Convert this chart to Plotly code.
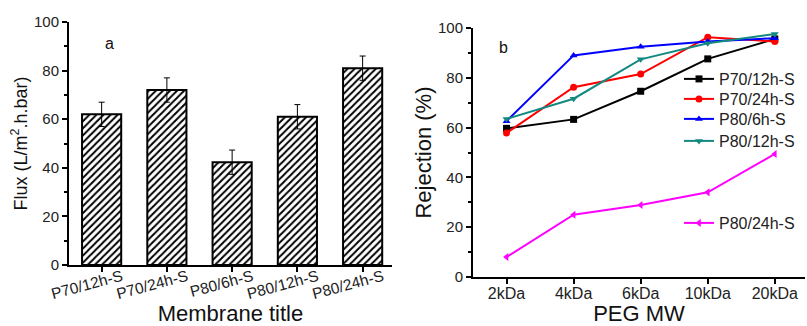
import plotly.graph_objects as go

# ---- data ----
membranes = ["P70/12h-S", "P70/24h-S", "P80/6h-S", "P80/12h-S", "P80/24h-S"]
flux = [62, 72, 42.3, 61, 81]
flux_err = [5, 5, 5, 5, 5]

peg_mw = ["2kDa", "4kDa", "6kDa", "10kDa", "20kDa"]
rej_p70_12 = [59.7, 63.3, 74.6, 87.6, 95.6]
rej_p70_24 = [57.8, 76.2, 81.5, 96.3, 94.6]
rej_p80_6 = [62.6, 89.0, 92.5, 94.6, 95.9]
rej_p80_12 = [63.5, 71.6, 87.4, 93.9, 97.6]
rej_p80_24 = [8.0, 25.0, 28.9, 34.0, 49.4]

FONT = "Liberation Sans, Arial, sans-serif"
W, H = 807, 326

fig = go.Figure()

fig.add_trace(go.Bar(
    x=membranes, y=flux, width=0.6,
    marker=dict(color="white", line=dict(color="black", width=2),
                pattern=dict(shape="/", fgcolor="black", bgcolor="white", size=5, solidity=0.4)),
    error_y=dict(type="data", array=flux_err, color="black", thickness=1, width=3),
    xaxis="x", yaxis="y", showlegend=False,
))

# (name, values, colour, marker, legend id, legend top in px)
series = [
    ("P70/12h-S", rej_p70_12, "black", "square", "legend", 62),
    ("P70/24h-S", rej_p70_24, "#ff0000", "circle", "legend2", 82),
    ("P80/6h-S", rej_p80_6, "#0000ff", "triangle-up", "legend3", 102),
    ("P80/12h-S", rej_p80_12, "#128a80", "triangle-down", "legend4", 124),
    ("P80/24h-S", rej_p80_24, "#ff00ff", "triangle-left", "legend5", 206),
]
legends = {}
for name, vals, col, sym, lg, top in series:
    fig.add_trace(go.Scatter(
        x=peg_mw, y=vals, name=name, mode="lines+markers",
        line=dict(color=col, width=2), marker=dict(symbol=sym, size=7, color=col),
        xaxis="x2", yaxis="y2", legend=lg,
    ))
    legends[lg] = dict(x=679 / W, y=1 - top / H, xanchor="left", yanchor="top",
                       bgcolor="rgba(0,0,0,0)", font=dict(family=FONT, size=16, color="#222"),
                       itemwidth=30)

minor_common = dict(ticks="outside", ticklen=3, tickcolor="black", tickwidth=1.5)
axis_common = dict(showline=True, linecolor="black", linewidth=2, ticks="outside", automargin=False,
                   tickcolor="black", tickwidth=1.5, ticklen=5, showgrid=False, zeroline=False)

fig.update_layout(
    template="none",
    width=W, height=H, margin=dict(l=0, r=0, t=0, b=0, autoexpand=False),
    paper_bgcolor="white", plot_bgcolor="white",
    font=dict(family=FONT, color="#222"),
    xaxis=dict(domain=[69 / W, 392 / W], anchor="y", range=[-0.5, 4.45], **axis_common,
               tickfont=dict(family=FONT, size=15.5, color="#222"),
               tickangle=-15, ticklabelshift=20, ticklabelstandoff=-10,
               minor=dict(**minor_common, dtick=1, tick0=0.5),
               title=dict(text="Membrane title", font=dict(family=FONT, size=22, color="#111"), standoff=2)),
    yaxis=dict(domain=[1 - 265 / H, 1 - 22 / H], anchor="x", range=[0, 100], dtick=20, **axis_common,
               tickfont=dict(family=FONT, size=15, color="#222"),
               minor=dict(**minor_common, dtick=10),
               title=dict(text="Flux (L/m<sup>2</sup>.h.bar)", font=dict(family=FONT, size=18, color="#111"), standoff=2)),
    xaxis2=dict(domain=[473 / W, 805 / W], anchor="y2", range=[-0.5, 4.45], **axis_common,
                tickfont=dict(family=FONT, size=16, color="#222"), ticklabelstandoff=-4,
                minor=dict(**minor_common, dtick=1, tick0=0.5),
                title=dict(text="PEG MW", font=dict(family=FONT, size=22, color="#111"), standoff=14)),
    yaxis2=dict(domain=[1 - 277 / H, 1 - 28 / H], anchor="x2", range=[0, 100], dtick=20, **axis_common,
                tickfont=dict(family=FONT, size=15, color="#222"),
                minor=dict(**minor_common, dtick=10),
                title=dict(text="Rejection (%)", font=dict(family=FONT, size=22, color="#111"), standoff=0)),
    annotations=[
        dict(text="a", x=103 / W, y=1 - 33 / H, xref="paper", yref="paper", showarrow=False,
             font=dict(family=FONT, size=16, color="#111")),
        dict(text="b", x=503 / W, y=1 - 37 / H, xref="paper", yref="paper", showarrow=False,
             font=dict(family=FONT, size=16, color="#111")),
    ],
    **legends,
)

fig.write_html("out.html")
